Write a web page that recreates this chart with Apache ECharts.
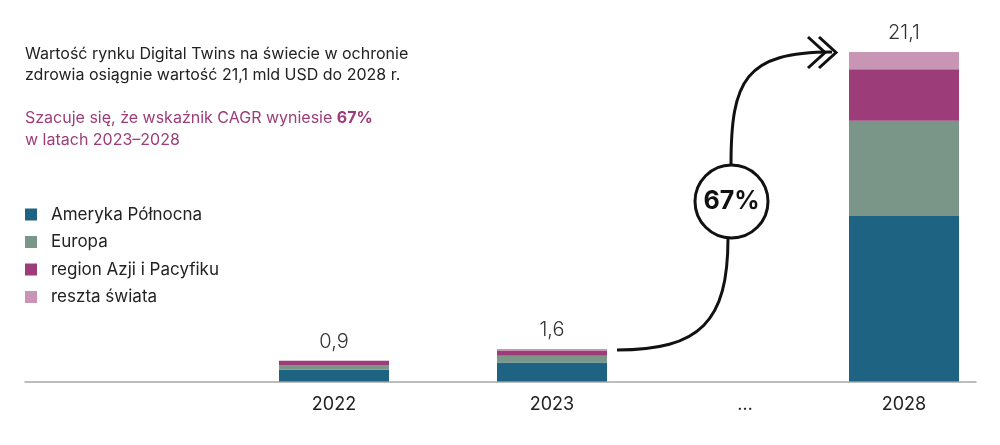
<!DOCTYPE html>
<html>
<head>
<meta charset="utf-8">
<script src="https://cdn.jsdelivr.net/npm/echarts@6/dist/echarts.min.js"></script>
<style>html,body{margin:0;padding:0;background:#fff}#c{width:1000px;height:445px}</style>
</head>
<body>
<div id="c"></div>
<script>
// ---- data ----
const years = ['2022', '2023', '2028'];
const gapLabel = '…';
const regions = ['Ameryka Północna', 'Europa', 'region Azji i Pacyfiku', 'reszta świata'];
const northAmerica = [0.75, 1.22, 10.6];
const europe = [0.28, 0.43, 6.1];
const asiaPacific = [0.29, 0.30, 3.3];
const restOfWorld = [0.02, 0.13, 1.1];
const totals = [0.9, 1.6, 21.1];
const cagrLabel = '67%';

// ---- layout / style ----
const colors = ['#1E6381', '#7A9689', '#9C3D7A', '#C995B4'];
const seriesValues = [northAmerica, europe, asiaPacific, restOfWorld];
const barCenters = [334, 552, 904];
const gapCenter = 745;
const barW = 110;
const gridTop = 52, gridBottom = 63.5;
const yMax = 21.1;
const FONT = 'Inter';

const grids = [{left: 25, right: 24, top: gridTop, bottom: gridBottom}];
const xAxes = [{
  gridIndex: 0, type: 'category', data: [''],
  axisLine: {show: true, lineStyle: {color: '#a8a8a8', width: 1.5}},
  axisTick: {show: false}, axisLabel: {show: false}, splitLine: {show: false}
}];
const yAxes = [{gridIndex: 0, type: 'value', show: false, min: 0, max: yMax}];

function catAxis(idx, label) {
  return {
    gridIndex: idx, type: 'category', data: [label],
    axisLine: {show: false}, axisTick: {show: false},
    axisLabel: {color: '#222', fontSize: 18, fontFamily: FONT, margin: 14}
  };
}
years.forEach((y, i) => {
  grids.push({left: barCenters[i] - barW / 2, width: barW, top: gridTop, bottom: gridBottom});
  xAxes.push(catAxis(i + 1, y));
  yAxes.push({gridIndex: i + 1, type: 'value', show: false, min: 0, max: yMax});
});
grids.push({left: gapCenter - barW / 2, width: barW, top: gridTop, bottom: gridBottom});
xAxes.push(catAxis(years.length + 1, gapLabel));
yAxes.push({gridIndex: years.length + 1, type: 'value', show: false, min: 0, max: yMax});

const series = [];
years.forEach((y, i) => {
  regions.forEach((r, k) => {
    series.push({
      type: 'bar', name: r, stack: 's' + i,
      xAxisIndex: i + 1, yAxisIndex: i + 1,
      data: [seriesValues[k][i]],
      barWidth: '100%',
      itemStyle: {color: colors[k]},
      emphasis: {disabled: true},
      label: k === regions.length - 1 ? {
        show: true, position: 'top', distance: 9,
        formatter: () => totals[i].toFixed(1).replace('.', ','),
        fontSize: 20, fontWeight: 300, color: '#333', fontFamily: FONT
      } : {show: false}
    });
  });
});

const chart = echarts.init(document.getElementById('c'), null, {renderer: 'canvas'});
chart.setOption({
  animation: false,
  color: colors,
  title: {
    left: 25, top: 43, padding: 0,
    text: '{a|Wartość rynku Digital Twins na świecie w ochronie}\n{a|zdrowia osiągnie wartość 21,1 mld USD do 2028 r.}\n{a| }\n{b|Szacuje się, że wskaźnik CAGR wyniesie }{bb|67%}\n{b|w latach 2023–2028}',
    textStyle: {
      fontWeight: 'normal',
      rich: {
        a: {fontSize: 16, lineHeight: 21.5, color: '#222', fontFamily: FONT, fontWeight: 'normal'},
        b: {fontSize: 16, lineHeight: 21.5, color: '#9C3D7A', fontFamily: FONT, fontWeight: 'normal'},
        bb: {fontSize: 16, lineHeight: 21.5, color: '#9C3D7A', fontFamily: FONT, fontWeight: 'bold'}
      }
    }
  },
  legend: {
    data: regions, orient: 'vertical', left: 25, top: 206, padding: 0,
    itemWidth: 12, itemHeight: 12, itemGap: 10.5, icon: 'rect',
    selectedMode: false,
    textStyle: {fontSize: 17, color: '#222', fontFamily: FONT, padding: [0, 0, 0, 9]}
  },
  grid: grids, xAxis: xAxes, yAxis: yAxes, series: series,
  graphic: [
    {type: 'bezierCurve', shape: {x1: 617, y1: 350, cpx1: 700, cpy1: 350, cpx2: 728, cpy2: 322, x2: 728, y2: 238},
      style: {stroke: '#111', lineWidth: 3, fill: null}},
    {type: 'bezierCurve', shape: {x1: 731, y1: 165, cpx1: 731, cpy1: 80, cpx2: 745, cpy2: 52, x2: 832, y2: 52},
      style: {stroke: '#111', lineWidth: 3, fill: null}},
    {type: 'polyline', shape: {points: [[808, 37], [825, 52.5], [808, 68]]}, style: {stroke: '#111', lineWidth: 3, fill: null}},
    {type: 'polyline', shape: {points: [[819, 37], [836, 52.5], [819, 68]]}, style: {stroke: '#111', lineWidth: 3, fill: null}},
    {type: 'circle', shape: {cx: 731.5, cy: 201.5, r: 36.5}, style: {stroke: '#111', lineWidth: 3, fill: '#fff'}},
    {type: 'text', x: 731.5, y: 201, style: {text: cagrLabel, fontSize: 25, fontWeight: 'bold', fill: '#111', fontFamily: FONT, align: 'center', verticalAlign: 'middle'}}
  ]
});
</script>
</body>
</html>
